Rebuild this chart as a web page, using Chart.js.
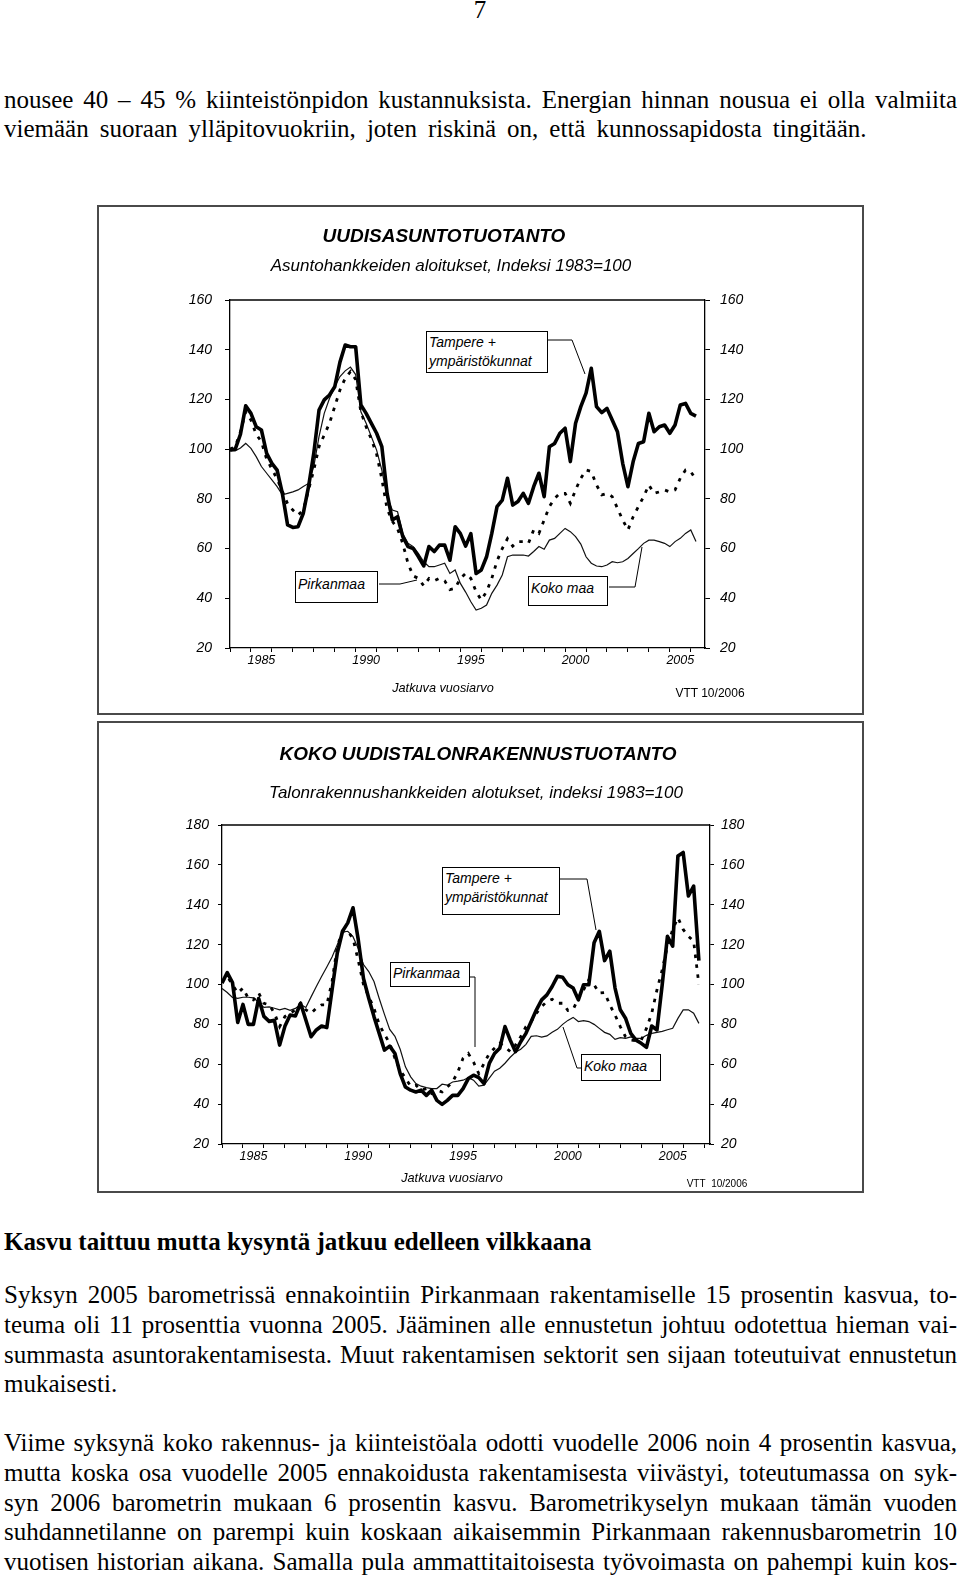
<!DOCTYPE html>
<html lang="fi">
<head>
<meta charset="utf-8">
<title>Uudisasuntotuotanto</title>
<script src="https://cdn.jsdelivr.net/npm/chart.js@4.4.1/dist/chart.umd.min.js"></script>
<style>
html, body { margin: 0; padding: 0; background: #fff; }
body { width: 960px; height: 1577px; position: relative; overflow: hidden; color: #000;
  font-family: "Liberation Serif", "Times New Roman", serif; }
.ln { position: absolute; left: 4px; width: 953px; font-size: 25px; line-height: 29.65px; white-space: nowrap; }
.j { text-align: justify; text-align-last: justify; white-space: normal; }
.b { font-weight: bold; }
canvas { position: absolute; }
.box { position: absolute; border: 2px solid #4a4a4a; box-sizing: border-box; }
.lab { position: absolute; font-family: "Liberation Sans", Arial, sans-serif; white-space: nowrap;
  transform: translate(-50%, -50%); line-height: 1; }
.note { position: absolute; box-sizing: border-box; background: #fff; border: 1px solid #000;
  font: italic 14px "Liberation Sans", Arial, sans-serif; line-height: 19px; padding-left: 2px; white-space: nowrap; }
</style>
</head>
<body>

<div class="ln" style="top:-5px;left:0;width:960px;text-align:center">7</div>
<div class="ln j" style="top:84.7px">nousee 40 – 45 % kiinteistönpidon kustannuksista. Energian hinnan nousua ei olla valmiita</div>
<div class="ln" style="top:114.3px;word-spacing:4.8px">viemään suoraan ylläpitovuokriin, joten riskinä on, että kunnossapidosta tingitään.</div>

<canvas id="c1" width="765" height="508" style="left:98px;top:206px"></canvas>
<div class="box" style="left:97px;top:205px;width:767px;height:510px"></div>
<div class="lab" style="left:444px;top:236px;font:italic bold 19px 'Liberation Sans'">UUDISASUNTOTUOTANTO</div>
<div class="lab" style="left:451px;top:266px;font:italic 17px 'Liberation Sans'">Asuntohankkeiden aloitukset, Indeksi 1983=100</div>
<div class="lab" style="left:443px;top:688px;font:italic 12.7px 'Liberation Sans'">Jatkuva vuosiarvo</div>
<div class="lab" style="left:710px;top:693px;font:12px 'Liberation Sans'">VTT 10/2006</div>
<div class="note" style="left:426px;top:331px;width:122px;height:42px;padding-top:1px">Tampere +<br>ympäristökunnat</div>
<div class="note" style="left:295px;top:571px;width:83px;height:32px;padding-top:3px">Pirkanmaa</div>
<div class="note" style="left:528px;top:576px;width:80px;height:30px;padding-top:2px">Koko maa</div>

<canvas id="c2" width="765" height="470" style="left:98px;top:722px"></canvas>
<div class="box" style="left:97px;top:721px;width:767px;height:472px"></div>
<div class="lab" style="left:478px;top:754px;font:italic bold 19px 'Liberation Sans'">KOKO UUDISTALONRAKENNUSTUOTANTO</div>
<div class="lab" style="left:476px;top:793px;font:italic 17px 'Liberation Sans'">Talonrakennushankkeiden alotukset, indeksi 1983=100</div>
<div class="lab" style="left:452px;top:1178px;font:italic 12.7px 'Liberation Sans'">Jatkuva vuosiarvo</div>
<div class="lab" style="left:717px;top:1183px;font:10px 'Liberation Sans'">VTT&nbsp; 10/2006</div>
<div class="note" style="left:442px;top:867px;width:118px;height:48px;padding-top:1px">Tampere +<br>ympäristökunnat</div>
<div class="note" style="left:390px;top:962px;width:80px;height:25px;padding-top:1px">Pirkanmaa</div>
<div class="note" style="left:581px;top:1054px;width:80px;height:27px;padding-top:2px">Koko maa</div>

<div class="ln b" style="top:1226.7px">Kasvu taittuu mutta kysyntä jatkuu edelleen vilkkaana</div>
<div class="ln j" style="top:1280.2px">Syksyn 2005 barometrissä ennakointiin Pirkanmaan rakentamiselle 15 prosentin kasvua, to-</div>
<div class="ln j" style="top:1309.85px">teuma oli 11 prosenttia vuonna 2005. Jääminen alle ennustetun johtuu odotettua hieman vai-</div>
<div class="ln j" style="top:1339.5px">summasta asuntorakentamisesta. Muut rakentamisen sektorit sen sijaan toteutuivat ennustetun</div>
<div class="ln" style="top:1369.15px">mukaisesti.</div>
<div class="ln j" style="top:1428.4px">Viime syksynä koko rakennus- ja kiinteistöala odotti vuodelle 2006 noin 4 prosentin kasvua,</div>
<div class="ln j" style="top:1458.05px">mutta koska osa vuodelle 2005 ennakoidusta rakentamisesta viivästyi, toteutumassa on syk-</div>
<div class="ln j" style="top:1487.7px">syn 2006 barometrin mukaan 6 prosentin kasvu. Barometrikyselyn mukaan tämän vuoden</div>
<div class="ln j" style="top:1517.35px">suhdannetilanne on parempi kuin koskaan aikaisemmin Pirkanmaan rakennusbarometrin 10</div>
<div class="ln j" style="top:1547px">vuotisen historian aikana. Samalla pula ammattitaitoisesta työvoimasta on pahempi kuin kos-</div>

<script>
// quarterly moving annual values, first point 1984 Q1
var firstYear = 1984;
var yearLabels = [1985, 1990, 1995, 2000, 2005];

// UUDISASUNTOTUOTANTO
var tampere1 = [99.6, 100, 106, 117.4, 114.4, 109, 107.7, 98.3, 94.3, 91.6,
  82.2, 69.5, 68.5, 68.8, 74.2, 84.9, 98.3, 115.7, 119.8, 121.8,
  125.1, 135, 141.9, 141.2, 141.2, 117.8, 114.4, 110.4, 106.4, 101,
  82.2, 71.5, 72.8, 64.8, 60.8, 60, 56.7, 53, 60.8, 58.8,
  61.4, 61.4, 55.3, 68.8, 66, 61, 66, 50, 51.4, 56.7,
  66.1, 76.9, 79.5, 88.3, 77.5, 78.9, 82.2, 78.2, 84.9, 90.3,
  80.9, 101, 102.3, 106.4, 108.4, 95, 110.4, 117.1, 122.5, 132.5,
  117.1, 114.7, 116.4, 111.7, 107, 94.3, 84.9, 95, 102.3, 103,
  114.4, 107, 109, 109.7, 106.4, 109.7, 117.8, 118.4, 114.4, 113.3];
var pirkanmaa1 = [100, 101, 107, 115, 111.7, 106, 103, 96, 92, 88,
  83, 78, 75.5, 73.5, 75.5, 83.6, 91.6, 101, 105.7, 110.4,
  117.1, 123.8, 128.5, 131.2, 128, 115, 109, 104, 98, 88,
  76, 71, 68, 62, 54, 49, 48, 45, 48, 47,
  48, 47, 43.5, 44, 48, 50, 48, 42.7, 39.3, 42.7,
  48, 55, 60, 64, 61, 62.8, 62.8, 62.1, 67.5, 66.1,
  71.5, 76.9, 80.2, 82.2, 82.2, 78.2, 83.6, 88.3, 91.6, 91,
  85.6, 81.6, 82.2, 80.9, 76.2, 71.5, 67.5, 72.8, 76.9, 80.9,
  85.6, 82.2, 82.8, 83.6, 82.8, 83.6, 88.3, 91.6, 91, 87.6];
var kokomaa1 = [99.6, 99.3, 100.5, 102.3, 100.3, 97, 93, 90.3, 87.6, 84.9,
  81.6, 82.2, 82.8, 83.6, 85, 86.2, 93, 105, 114.4, 120.4,
  125.1, 129.2, 131.5, 133, 130, 115, 110.4, 105, 99.6, 91.6,
  80.9, 75.5, 74.8, 66.1, 62.1, 60.8, 58, 54.7, 52.7, 52.7,
  53.4, 54.1, 50, 51.4, 46, 42.5, 38.6, 35.3, 36, 37.3,
  42, 45.3, 49.4, 56.7, 57.4, 57.4, 57.4, 57, 58.8, 60.8,
  59.7, 63.4, 64.1, 66.1, 68.1, 66.8, 64.8, 61.8, 56.7, 54.1,
  53, 52.7, 53.4, 54.7, 54.3, 54.7, 56, 58, 60, 62.1,
  63.4, 63.4, 62.8, 62.1, 60.8, 62.8, 64.1, 66.1, 67.5, 62.8];

// KOKO UUDISTALONRAKENNUSTUOTANTO
var tampere2 = [100.7, 106, 101, 81, 90, 80, 80, 93, 84, 81.5,
  82, 69.6, 79, 84.7, 84.2, 90.6, 82.2, 73.8, 77.2, 79.2,
  78.4, 97.3, 115.8, 126.7, 130.9, 138.5, 122.5, 103, 93.1, 83.9,
  75.5, 67.1, 69.1, 65.4, 55.3, 48.6, 47, 46.1, 47, 44.4,
  47, 41.9, 39.9, 41.9, 44.4, 44.4, 47.8, 52.8, 54.5, 53.3,
  50.3, 60.4, 65.4, 68, 78.9, 72.1, 66.3, 71.3, 75.5, 81.4,
  87.3, 92.3, 94.8, 99, 104.1, 103.6, 99.9, 98.2, 92.3, 99.9,
  99.9, 120.9, 126.7, 112, 116.7, 98.2, 87.3, 83.1, 75.5, 72.1,
  70.5, 68.5, 79.2, 77.2, 99.9, 124.2, 119.2, 164.5, 166.2, 144.4,
  149.4, 112];
var pirkanmaa2 = [101.5, 104, 99.9, 95.7, 98.2, 93.1, 92.3, 95.7, 90.6, 89.8,
  85.6, 78.9, 83.9, 85.6, 87.3, 90.6, 87.3, 85.6, 88.1, 89.8,
  89.8, 101.5, 119.2, 126.7, 126.7, 123, 112, 100, 94, 88,
  80, 75, 70.5, 63, 57, 53, 49, 49.5, 47, 47.8,
  45.3, 47, 46.1, 48.6, 51.1, 56.2, 63, 65.4, 61, 55.3,
  60.4, 65.4, 68, 70.5, 68.8, 66.3, 69.6, 73.8, 78.9, 81.4,
  85.6, 88.9, 91.5, 92.6, 90.6, 90.6, 87, 87.5, 93, 97.3,
  102.4, 99.9, 95.7, 96, 89.8, 84.7, 78.9, 73.8, 72.1, 71.8,
  72.1, 78, 85.6, 97.3, 107.4, 119.2, 127.6, 133.5, 127.6, 124.2,
  121.7, 100];
var kokomaa2 = [98, 96, 93.5, 93, 93.6, 93.6, 93.3, 91, 88.5, 88.8,
  88.1, 87.3, 88, 87, 88, 90, 88.5, 93.8, 99, 104,
  108.8, 113.8, 120, 126.3, 126.7, 124, 118, 110, 106.5, 101.5,
  93, 85, 77.5, 74, 67.5, 58.7, 53.7, 50.3, 49, 48.3,
  47.8, 47.8, 50, 49.5, 51.1, 51.5, 52, 53.3, 52, 49,
  49.5, 53, 56.5, 58, 60.5, 63.5, 66, 67.5, 70, 74,
  74.3, 73.6, 74.2, 76, 77.5, 80, 82, 83.5, 81.4, 81.9,
  81.4, 80, 78, 76, 75, 72.5, 73.3, 73, 73.7, 73,
  73, 74.5, 75.5, 76, 76.5, 77.3, 78, 83, 87.3, 87.3,
  85.6, 80.5];

function quarters(n) {
  var q = [];
  for (var i = 0; i < n; i++) q.push(firstYear + i / 4);
  return q;
}

var tickFont = { family: 'Liberation Sans', size: 14, style: 'italic' };
var yearFont = { family: 'Liberation Sans', size: 12.5, style: 'italic' };

function makeChart(id, s) {
  // frame top + leader lines of the label boxes (page coords)
  var frame = {
    id: 'frame',
    afterDraw: function(chart) {
      var ctx = chart.ctx, a = chart.chartArea;
      ctx.save();
      ctx.strokeStyle = '#000';
      ctx.lineWidth = 1.3;
      ctx.beginPath();
      ctx.moveTo(a.left, a.top);
      ctx.lineTo(a.right, a.top);
      ctx.stroke();
      ctx.lineWidth = 1;
      s.leaders.forEach(function(pts) {
        ctx.beginPath();
        pts.forEach(function(p, i) {
          if (i) ctx.lineTo(p[0] - s.left, p[1] - s.top);
          else ctx.moveTo(p[0] - s.left, p[1] - s.top);
        });
        ctx.stroke();
      });
      ctx.restore();
    }
  };

  function yAxis(pos, pad, len) {
    return {
      position: pos, min: s.yMin, max: s.yMax,
      ticks: { stepSize: 20, color: '#000', font: tickFont, padding: pad },
      grid: { drawOnChartArea: false, tickLength: len, tickColor: '#000' },
      border: { color: '#000', width: 1.3 },
      afterFit: function(sc) { sc.width = 50; }
    };
  }

  return new Chart(document.getElementById(id), {
    type: 'line',
    data: {
      labels: quarters(s.tampere.length),
      datasets: [
        { label: 'Tampere + ympäristökunnat', data: s.tampere, borderColor: '#000', borderWidth: 3.6,
          pointRadius: 0, borderJoinStyle: 'round', tension: 0 },
        { label: 'Pirkanmaa', data: s.pirkanmaa, borderColor: '#000', borderWidth: 2.8,
          borderDash: [3.5, 6.5], pointRadius: 0, tension: 0 },
        { label: 'Koko maa', data: s.kokomaa, borderColor: '#111', borderWidth: 1.2,
          pointRadius: 0, tension: 0 }
      ]
    },
    options: {
      responsive: false,
      animation: false,
      events: [],
      layout: { padding: s.padding },
      plugins: { legend: { display: false }, tooltip: { enabled: false } },
      scales: {
        x: {
          type: 'linear', min: firstYear, max: s.xMax,
          afterBuildTicks: function(axis) {
            var v = [];
            for (var y = firstYear; y <= axis.max; y++) v.push(y);
            yearLabels.forEach(function(y) { v.push(y + 0.5); });
            v.sort(function(a, b) { return a - b; });
            axis.ticks = v.map(function(value) { return { value: value }; });
          },
          ticks: {
            autoSkip: false, maxRotation: 0, minRotation: 0, padding: 1,
            color: '#000', font: yearFont,
            callback: function(value) { return value % 1 === 0.5 ? String(value - 0.5) : ''; }
          },
          grid: {
            drawOnChartArea: false, tickLength: 4,
            tickColor: function(c) { return Number.isInteger(c.tick.value) ? '#000' : 'rgba(0,0,0,0)'; }
          },
          border: { color: '#000', width: 1.3 },
          afterFit: function(sc) { sc.height = 30; }
        },
        y: yAxis('left', s.padL, s.tickLen),
        y2: yAxis('right', s.padR, s.tickLen)
      }
    },
    plugins: [frame]
  });
}

makeChart('c1', {
  tampere: tampere1, pirkanmaa: pirkanmaa1, kokomaa: kokomaa1,
  yMin: 20, yMax: 160, xMax: 2006.68,
  padding: { left: 82, right: 108, top: 94, bottom: 36 },
  padL: 13, padR: 10, tickLen: 5,
  left: 98, top: 206,
  leaders: [
    [[548, 340], [572, 340], [585, 374]],
    [[379, 584], [400, 584], [417, 580]],
    [[609, 587], [635, 587], [642, 547]]
  ]
});

makeChart('c2', {
  tampere: tampere2, pirkanmaa: pirkanmaa2, kokomaa: kokomaa2,
  yMin: 20, yMax: 180, xMax: 2007.28,
  padding: { left: 74, right: 103, top: 103, bottom: 18 },
  padL: 9, padR: 7, tickLen: 4,
  left: 98, top: 722,
  leaders: [
    [[560, 879], [587, 879], [596, 930]],
    [[470, 977], [475, 977], [475, 1047]],
    [[581, 1068], [577, 1068], [563, 1027]]
  ]
});
</script>
</body>
</html>
